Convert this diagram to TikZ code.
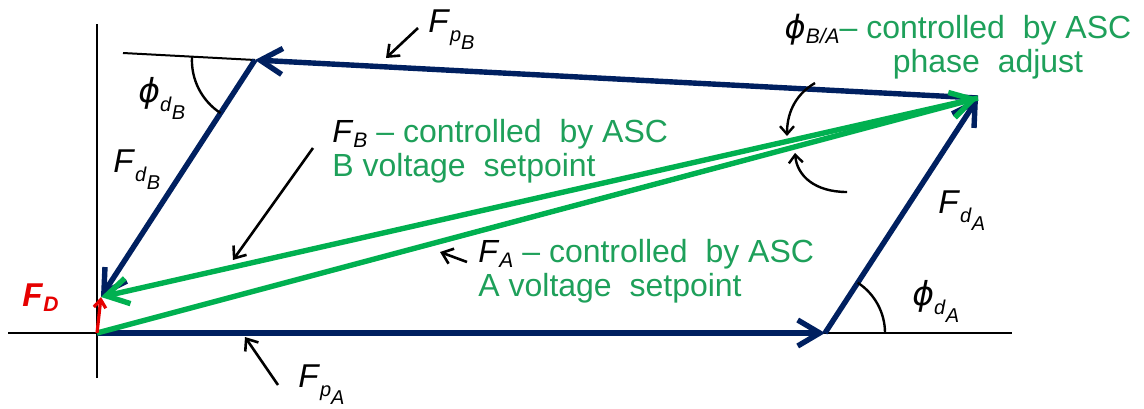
\documentclass[tikz,border=0pt]{standalone}
\usepackage{fontspec}
\setmainfont{Liberation Sans}
\newfontfamily\phifont{DejaVu Sans}
\usetikzlibrary{arrows.meta}
\definecolor{vecblue}{RGB}{0,32,96}
\definecolor{vecgreen}{RGB}{0,176,80}
\definecolor{txtgreen}{RGB}{30,160,90}
\definecolor{vecred}{RGB}{230,0,0}
\newcommand{\vphi}{{\phifont\itshape ϕ}}
\newcommand{\vsub}[2]{\textit{#1}\raisebox{-2.5pt}{\fontsize{10.5}{11}\selectfont\textit{#2}}}
\newcommand{\vsubsub}[3]{\textit{#1}\raisebox{-4.5pt}{\fontsize{10}{11}\selectfont\textit{#2}\raisebox{-4pt}{\textit{#3}}}}
\begin{document}
\begin{tikzpicture}[x=0.5pt,y=0.5pt,
  axis/.style={draw=black,line width=1pt},
  bluevec/.style={draw=vecblue,line width=2.7pt,-{Straight Barb[length=11pt,width=13pt]}},
  greenvec/.style={draw=vecgreen,line width=2.7pt,-{Straight Barb[length=11pt,width=13pt]}},
  redvec/.style={draw=vecred,line width=1.6pt,-{Straight Barb[length=4pt,width=6pt]}},
  anglearc/.style={draw=black,line width=1.2pt},
  anglearrow/.style={anglearc,-{Straight Barb[length=4pt,width=7pt]}},
  pointer/.style={draw=black,line width=1.3pt,-{Straight Barb[length=5pt,width=8pt]}},
  lbl/.style={inner sep=0pt,font=\fontsize{16.5}{18}\selectfont},
  note/.style={inner sep=0pt,align=left,text=txtgreen,font=\fontsize{16}{17}\selectfont}]
\useasboundingbox (0,0) rectangle (1144,408);

\coordinate (O) at (97,75);
\coordinate (A) at (825,75);
\coordinate (C) at (978,310);
\coordinate (B) at (255,348);
\coordinate (D) at (101,111);
\coordinate (Bx) at (123,355);

\draw[axis] (97,30) -- (97,384);
\draw[axis] (8,75) -- (1012,75);
\draw[axis] (B) -- (Bx);

\draw[bluevec] (O) -- (A);
\draw[bluevec] (A) -- (C);
\draw[bluevec] (C) -- (B);
\draw[bluevec] (B) -- (D);

\draw[greenvec] (O) -- (C);
\draw[greenvec] (C) -- (D);

\draw[redvec] (O) -- (D);

\draw[anglearc] (885,75) arc[start angle=0,end angle=57,radius=60];
\draw[anglearc] (192,351) arc[start angle=177,end angle=237,radius=63];
\draw[anglearrow] (815,325) .. controls (793,312) and (787,292) .. (787,272);
\draw[anglearrow] (847,216) .. controls (815,216) and (797,232) .. (795,255);

\node[lbl,anchor=base west] (FpB) at (428,375) {\vsubsub{F}{p}{B}};
\node[lbl,anchor=base west] (phidB) at (138,306) {\vsubsub{\vphi}{d}{B}};
\node[lbl,anchor=base west] (FdB) at (113,236) {\vsubsub{F}{d}{B}};
\node[lbl,anchor=base west] (FdA) at (938,195) {\vsubsub{F}{d}{A}};
\node[lbl,anchor=base west] (phidA) at (912,103) {\vsubsub{\vphi}{d}{A}};
\node[lbl,anchor=base west] (FpA) at (298,21) {\vsubsub{F}{p}{A}};
\node[lbl,anchor=base west,text=vecred,font=\fontsize{16.5}{18}\selectfont\bfseries] (FD) at (22,102) {\vsub{F}{D}};

\node[note,anchor=north west] (FBnote) at (332,289)
  {{\color{black}\vsub{F}{B}} – controlled\ \ by ASC\\B voltage\ \ setpoint};
\node[note,anchor=north west] (FAnote) at (478,169)
  {{\color{black}\vsub{F}{A}} – controlled\ \ by ASC\\A voltage\ \ setpoint};
\node[note,anchor=north,align=center] (phinote) at (958,394)
  {{\color{black}\vsub{\vphi}{B/A}}– controlled\ \ by ASC\\\hspace*{30pt}phase\ \ adjust};

\coordinate (tFpB) at (418,380);
\coordinate (hFpB) at (386,350);
\coordinate (tFB) at (313,260);
\coordinate (hFB) at (233,148);
\coordinate (tFA) at (467,146);
\coordinate (hFA) at (440,156);
\coordinate (tFpA) at (278,23);
\coordinate (hFpA) at (245,71);

\draw[pointer] (tFpB) -- (hFpB);
\draw[pointer] (tFB) -- (hFB);
\draw[pointer] (tFA) -- (hFA);
\draw[pointer] (tFpA) -- (hFpA);
\end{tikzpicture}
\end{document}
